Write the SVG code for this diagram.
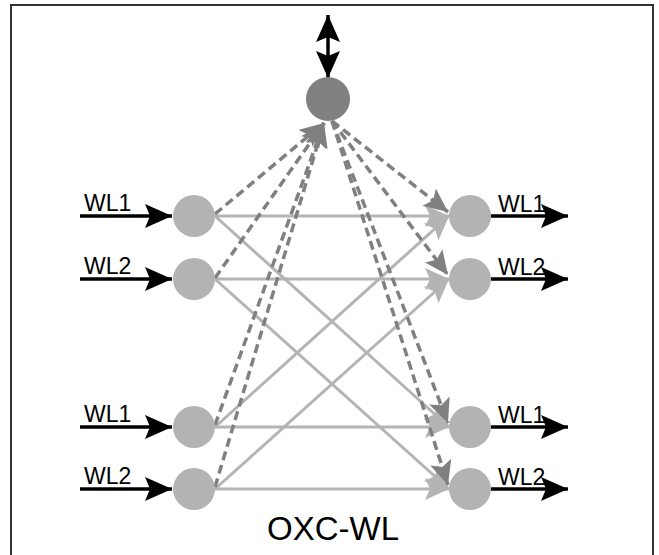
<svg xmlns="http://www.w3.org/2000/svg" width="659" height="555" viewBox="0 0 659 555">
<style>
.lbl{font-family:"Liberation Sans",Arial,sans-serif;font-size:23px;fill:#000}
.title{font-family:"Liberation Sans",Arial,sans-serif;font-size:33px;fill:#000}
.node{fill:#b3b3b3}
.hub{fill:#808080}
.solid{stroke:#b4b4b4;stroke-width:3;fill:none;marker-end:url(#ah-light)}
.dash{stroke:#808080;stroke-width:3.5;stroke-dasharray:9 5;fill:none;marker-end:url(#ah-dark)}
.io{stroke:#000;stroke-width:3.5;fill:none;marker-end:url(#ah-black)}
</style>
<defs>
<marker id="ah-light" markerUnits="userSpaceOnUse" markerWidth="26" markerHeight="22" refX="24" refY="11" orient="auto"><path d="M0,0 L24,11 L0,22 L5,11 Z" fill="#b4b4b4"/></marker>
<marker id="ah-dark" markerUnits="userSpaceOnUse" markerWidth="26" markerHeight="22" refX="24" refY="11" orient="auto"><path d="M0,0 L24,11 L0,22 L5,11 Z" fill="#808080"/></marker>
<marker id="ah-black" markerUnits="userSpaceOnUse" markerWidth="28" markerHeight="24" refX="27" refY="12" orient="auto"><path d="M0,0 L27,12 L0,24 L5,12 Z" fill="#000"/></marker>
<marker id="ah-black-start" markerUnits="userSpaceOnUse" markerWidth="28" markerHeight="24" refX="1" refY="12" orient="auto"><path d="M28,0 L1,12 L28,24 L23,12 Z" fill="#000"/></marker>
</defs>
<rect x="11" y="5" width="642" height="570" fill="#fff" stroke="#333" stroke-width="2"/>
<g id="connectors">
<line class="solid" x1="215" y1="216" x2="449" y2="216"/>
<line class="solid" x1="215" y1="216" x2="449" y2="427"/>
<line class="solid" x1="215" y1="279" x2="449" y2="279"/>
<line class="solid" x1="215" y1="279" x2="449" y2="489"/>
<line class="solid" x1="215" y1="427" x2="449" y2="427"/>
<line class="solid" x1="215" y1="427" x2="449" y2="216"/>
<line class="solid" x1="215" y1="489" x2="449" y2="489"/>
<line class="solid" x1="215" y1="489" x2="449" y2="279"/>
<line class="dash" x1="215" y1="214" x2="324" y2="123"/>
<line class="dash" x1="215" y1="278" x2="324" y2="123"/>
<line class="dash" x1="215" y1="425" x2="324" y2="123"/>
<line class="dash" x1="215" y1="487" x2="324" y2="123"/>
<line class="dash" x1="332" y1="121" x2="448" y2="212"/>
<line class="dash" x1="332" y1="121" x2="448" y2="275"/>
<line class="dash" x1="332" y1="121" x2="448" y2="423"/>
<line class="dash" x1="332" y1="121" x2="448" y2="485"/>
<line class="io" x1="80" y1="216" x2="172" y2="216"/>
<line class="io" x1="80" y1="279" x2="172" y2="279"/>
<line class="io" x1="80" y1="427" x2="172" y2="427"/>
<line class="io" x1="80" y1="489" x2="172" y2="489"/>
<line class="io" x1="491" y1="216" x2="568" y2="216"/>
<line class="io" x1="491" y1="279" x2="568" y2="279"/>
<line class="io" x1="491" y1="427" x2="568" y2="427"/>
<line class="io" x1="491" y1="489" x2="568" y2="489"/>
<line x1="328" y1="15" x2="328" y2="78" stroke="#000" stroke-width="3.5" marker-start="url(#ah-black-start)" marker-end="url(#ah-black)"/>
</g>
<g id="hub"><circle class="hub" cx="328" cy="99" r="22"/></g>
<g id="in1"><circle class="node" cx="194" cy="216" r="21"/><text class="lbl" x="84" y="211">WL1</text></g>
<g id="in2"><circle class="node" cx="194" cy="279" r="21"/><text class="lbl" x="84" y="274">WL2</text></g>
<g id="in3"><circle class="node" cx="194" cy="427" r="21"/><text class="lbl" x="84" y="422">WL1</text></g>
<g id="in4"><circle class="node" cx="194" cy="489" r="21"/><text class="lbl" x="84" y="484">WL2</text></g>
<g id="out1"><circle class="node" cx="470" cy="216" r="21"/><text class="lbl" x="498" y="212">WL1</text></g>
<g id="out2"><circle class="node" cx="470" cy="279" r="21"/><text class="lbl" x="498" y="275">WL2</text></g>
<g id="out3"><circle class="node" cx="470" cy="427" r="21"/><text class="lbl" x="498" y="423">WL1</text></g>
<g id="out4"><circle class="node" cx="470" cy="489" r="21"/><text class="lbl" x="498" y="485">WL2</text></g>
<text class="title" x="333" y="540" text-anchor="middle">OXC-WL</text>
</svg>
